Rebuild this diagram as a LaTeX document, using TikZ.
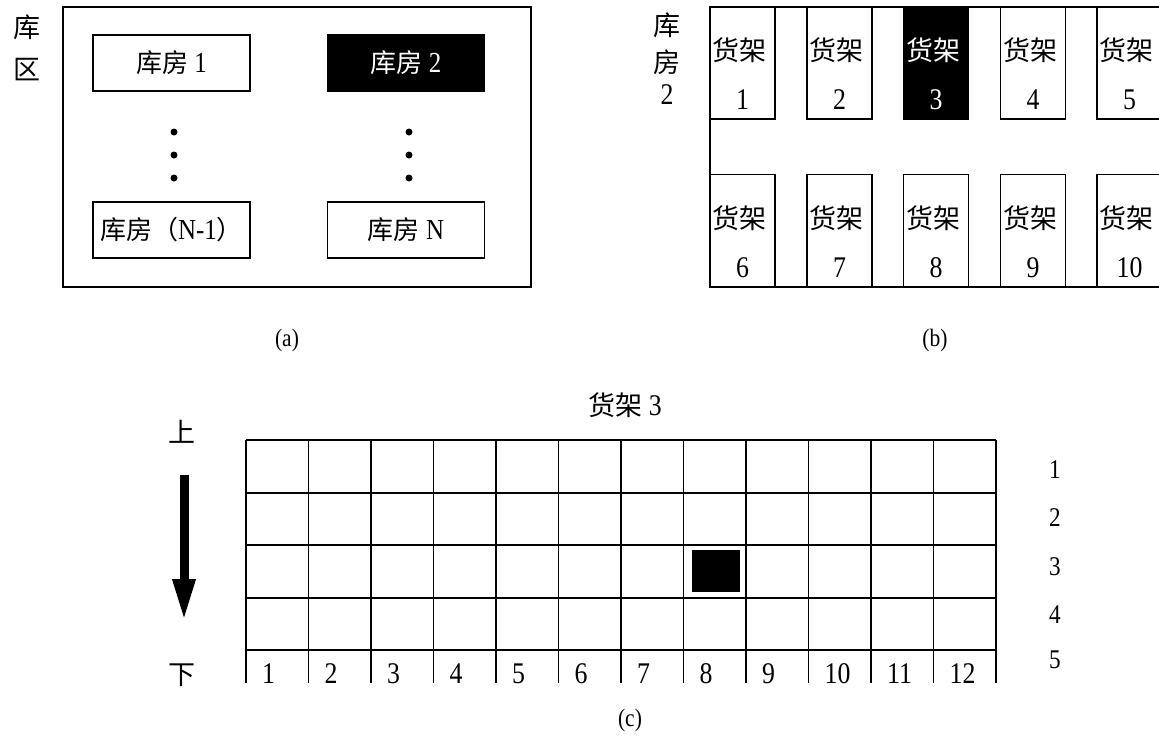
\documentclass[tikz,border=0pt]{standalone}
\usepackage{fontspec}
\setmainfont[FakeStretch=0.86]{Liberation Serif}
\newfontfamily\cjk{Noto Sans CJK SC}
\usetikzlibrary{arrows.meta}
\begin{document}
\begin{tikzpicture}[x=1pt,y=-1pt,
  thickline/.style={line width=1.7pt},
  room/.style={draw,line width=1.7pt,minimum width=157pt,minimum height=56pt,inner sep=0pt,font=\fontsize{29}{30}\selectfont},
  shelf/.style={draw,line width=1.7pt,minimum width=65pt,minimum height=112pt,inner sep=0pt},
  cj/.style={inner sep=0pt,font=\fontsize{27}{30}\cjk},
  num/.style={inner sep=0pt,font=\fontsize{30}{32}\selectfont},
  rnum/.style={inner sep=0pt,font=\fontsize{27}{30}\selectfont},
  captxt/.style={inner sep=0pt,font=\fontsize{25}{28}\selectfont},
  bigdot/.style={circle,fill=black,minimum size=7pt,inner sep=0pt}]
\useasboundingbox (0,0) rectangle (1159,737);

% ---------- (a) ----------
\node[cj] (kq1) at (27,27) {库};
\node[cj] (kq2) at (27,70) {区};
\node[draw,line width=1.7pt,minimum width=468pt,minimum height=280pt,inner sep=0pt] (frameA) at (297,147) {};
\node[room] (r1) at (171.5,63) {{\fontsize{26}{30}\cjk 库房} 1};
\node[room,fill=black,text=white] (r2) at (406,63) {{\fontsize{26}{30}\cjk 库房} 2};
\node[room] (r3) at (171.5,230) {{\fontsize{26}{30}\cjk 库房（}N-1{\fontsize{26}{30}\cjk ）}};
\node[room] (r4) at (406,230) {{\fontsize{26}{30}\cjk 库房} N};
\foreach \y [count=\j] in {132,155,178} {
  \node[bigdot] (dl\j) at (174,\y) {};
  \node[bigdot] (dr\j) at (409,\y) {};
}
\node[captxt] (capA) at (287,340) {(a)};

% ---------- (b) ----------
\node[cj] (kf1) at (667,25) {库};
\node[cj] (kf2) at (667,62) {房};
\node[num] (kf3) at (667,95) {2};
\begin{scope}
\clip (700,0) rectangle (1159,300);
\draw[thickline] (1170,7) -- (710,7) -- (710,287) -- (1170,287);
\foreach \i/\x/\bg/\fg in {1/742.5/white/black,2/839.5/white/black,3/936/black/white,4/1033/white/black,5/1129.5/white/black} {
  \node[shelf,fill=\bg] (s\i) at (\x,63) {};
  \node[cj,text=\fg] (s\i t) at (\x-3,50) {货架};
  \node[num,text=\fg] (s\i n) at (\x,100) {\i};
}
\foreach \i/\x in {6/742.5,7/839.5,8/936,9/1033,10/1129.5} {
  \node[shelf] (s\i) at (\x,230.5) {};
  \node[cj] (s\i t) at (\x-3,218) {货架};
  \node[num] (s\i n) at (\x,268) {\i};
}
\end{scope}
\node[captxt] (capB) at (935,340) {(b)};

% ---------- (c) ----------
\node[inner sep=0pt,font=\fontsize{30}{32}\selectfont] (title) at (625,405) {{\fontsize{27}{30}\cjk 货架} 3};
\node[cj] (up) at (182,432) {上};
\node[cj] (down) at (182,675) {下};
\coordinate (arrS) at (184,475);
\coordinate (arrE) at (184,621);
\draw[line width=9pt,-{Triangle[width=21pt,length=42pt]}] (arrS) -- (arrE);
\foreach \k in {0,...,12} \draw[thickline] (246+62.5*\k,440) -- (246+62.5*\k,683);
\foreach \y in {440,493,545,598,650} \draw[thickline] (246,\y) -- (996,\y);
\foreach \k in {1,...,12} \node[num,anchor=base west] (c\k) at (246+62.5*\k-62.5+16,683) {\k};
\foreach \y [count=\r] in {470,518,567,615,660} \node[rnum] (row\r) at (1055,\y) {\r};
\node[fill=black,minimum width=48pt,minimum height=42pt,inner sep=0pt] (item) at (716,571) {};
\node[captxt] (capC) at (630,720) {(c)};
\end{tikzpicture}
\end{document}
